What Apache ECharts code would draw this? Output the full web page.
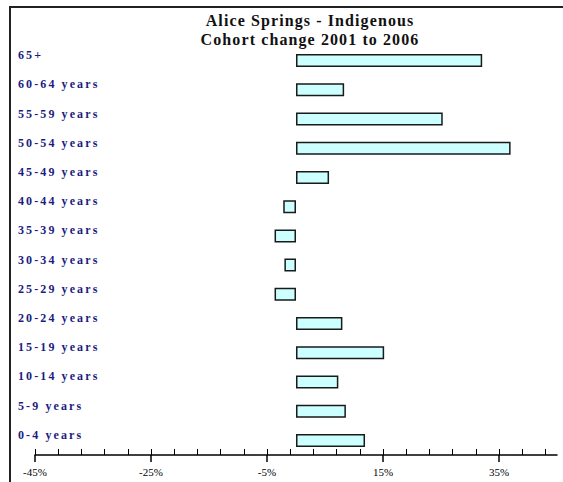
<!DOCTYPE html>
<html>
<head>
<meta charset="utf-8">
<script src="https://cdn.jsdelivr.net/npm/echarts@6/dist/echarts.min.js"></script>
<style>
  html, body { margin: 0; padding: 0; background: #ffffff; }
  #chart { width: 563px; height: 482px; }
  /* spaced-out lettering for the title and the age-group labels */
  #chart text[fill="#1c1c80"] { letter-spacing: 2.1px; }
  #chart text[fill="#111111"] { letter-spacing: 1.1px; }
</style>
</head>
<body>
<div id="chart"></div>
<script>
// Age groups, bottom to top
const ageGroups = [
  '0-4 years', '5-9 years', '10-14 years', '15-19 years', '20-24 years',
  '25-29 years', '30-34 years', '35-39 years', '40-44 years', '45-49 years',
  '50-54 years', '55-59 years', '60-64 years', '65+'
];
// Cohort change 2001 to 2006, percent
const cohortChange = [
  11.9, 8.6, 7.3, 15.2, 8.0,
  -3.7, -2.0, -3.7, -2.2, 5.7,
  37.0, 25.3, 8.3, 32.1
];
// Axis labels and the finer tick marks
const axisLabelValues = [-45, -25, -5, 15, 35];
const minorTickValues = [];
for (let v = -45; v < 45; v += 4) minorTickValues.push(v);

const chart = echarts.init(document.getElementById('chart'), null, { renderer: 'svg' });

const serif = '"Liberation Serif", "Times New Roman", serif';

chart.setOption({
  backgroundColor: '#ffffff',
  animation: false,
  title: {
    text: 'Alice Springs - Indigenous\nCohort change 2001 to 2006',
    left: 305,
    top: 6,
    textAlign: 'center',
    textStyle: {
      fontFamily: serif,
      fontWeight: 'bold',
      fontSize: 16,
      lineHeight: 19,
      color: '#111111'
    }
  },
  graphic: [{
    type: 'rect',
    shape: { x: 10, y: 7, width: 600, height: 600 },
    style: { fill: 'none', stroke: '#222222', lineWidth: 2 },
    silent: true
  }],
  grid: { left: 35, right: 6, top: 46, bottom: 27, containLabel: false },
  xAxis: [{
    type: 'value',
    min: -45,
    max: 45,
    interval: 20,
    position: 'bottom',
    splitLine: { show: false },
    axisLine: { show: true, lineStyle: { color: '#000000', width: 1.5 } },
    axisTick: {
      show: true, inside: false, length: 7,
      customValues: axisLabelValues,
      lineStyle: { color: '#000000', width: 1.5 }
    },
    axisLabel: {
      customValues: axisLabelValues,
      formatter: v => v + '%',
      fontFamily: serif,
      fontSize: 11,
      color: '#000000',
      margin: 11
    }
  }, {
    type: 'value',
    min: -45,
    max: 45,
    position: 'bottom',
    splitLine: { show: false },
    axisLine: { show: false },
    axisTick: {
      show: true, inside: true, length: 6,
      customValues: minorTickValues,
      lineStyle: { color: '#000000', width: 1 }
    },
    axisLabel: { show: false }
  }],
  yAxis: {
    type: 'category',
    data: ageGroups,
    axisLine: { show: false },
    axisTick: { show: false },
    axisLabel: {
      align: 'left',
      verticalAlign: 'bottom',
      lineHeight: 11,
      margin: 17,
      fontFamily: serif,
      fontWeight: 'bold',
      fontSize: 12,
      color: '#1c1c80'
    }
  },
  series: [{
    type: 'bar',
    xAxisIndex: 0,
    data: cohortChange,
    barWidth: 13,
    itemStyle: {
      color: '#ccffff',
      borderColor: '#1a1a1a',
      borderWidth: 1.5
    }
  }]
});
</script>
</body>
</html>
